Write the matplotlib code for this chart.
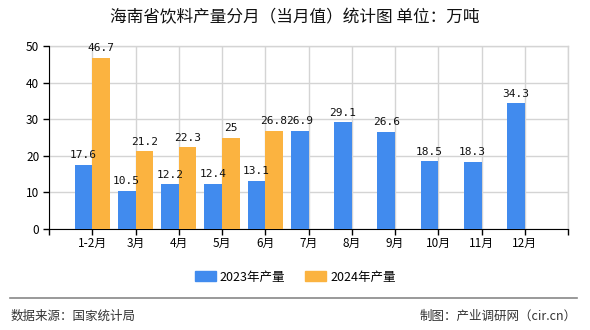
import matplotlib
matplotlib.use("Agg")
import matplotlib.pyplot as plt
from matplotlib.patches import Patch
import numpy as np

plt.rcParams['font.family'] = ['Noto Sans CJK SC', 'DejaVu Sans']

categories = ['1-2月', '3月', '4月', '5月', '6月', '7月', '8月', '9月', '10月', '11月', '12月']
values_2023 = [17.6, 10.5, 12.2, 12.4, 13.1, 26.9, 29.1, 26.6, 18.5, 18.3, 34.3]
values_2024 = [46.7, 21.2, 22.3, 25, 26.8]
labels_2023 = ['17.6', '10.5', '12.2', '12.4', '13.1', '26.9', '29.1', '26.6', '18.5', '18.3', '34.3']
labels_2024 = ['46.7', '21.2', '22.3', '25', '26.8']
yticks = [0, 10, 20, 30, 40, 50]

c23 = '#418BEE'
c24 = '#FBB340'

fig = plt.figure(figsize=(5.9, 3.3), dpi=100)
ax = fig.add_axes([49/590, 1-229/330, (568-49)/590, (229-46)/330])

x = np.arange(1, len(categories) + 1)
w = 0.41
x24 = x[:len(values_2024)]
ax.bar(x - w/2, values_2023, width=w, color=c23, zorder=3)
ax.bar(x24 + w/2, values_2024, width=w, color=c24, zorder=3)

for xi, v, t in zip(x - w/2, values_2023, labels_2023):
    ax.text(xi, v + 1.3, t, ha='center', va='bottom', fontsize=8, family=['DejaVu Sans Mono'], color='#111111', zorder=4)
for xi, v, t in zip(x24 + w/2, values_2024, labels_2024):
    ax.text(xi, v + 1.3, t, ha='center', va='bottom', fontsize=8, family=['DejaVu Sans Mono'], color='#111111', zorder=4)

ax.set_xlim(0, 12)
ax.set_ylim(0, 50)
ax.set_yticks(yticks)
ax.set_yticklabels([str(v) for v in yticks], fontsize=8.5)
ax.set_xticks(np.arange(0, 13))
ax.set_xticklabels([''] + categories + [''], fontsize=8.5)
ax.tick_params(axis='x', length=4, width=1, color='black', pad=2)
ax.tick_params(axis='y', length=4, width=1, color='black', pad=3)
ax.grid(True, color='#d4d4d4', linewidth=1, zorder=0)
ax.set_axisbelow(True)
ax.axvline(12, color='#d4d4d4', linewidth=1, clip_on=False, zorder=0)
ax.axhline(50, color='#d4d4d4', linewidth=1, clip_on=False, zorder=0)
for s in ['top', 'right']:
    ax.spines[s].set_visible(False)
ax.spines['left'].set_color('black')
ax.spines['bottom'].set_color('black')

fig.text(0.5, 1-18/330, '海南省饮料产量分月（当月值）统计图 单位：万吨', ha='center', va='center', fontsize=12, color='#111111')

handles = [Patch(color=c23, label='2023年产量'), Patch(color=c24, label='2024年产量')]
fig.legend(handles=handles, loc='center', bbox_to_anchor=(0.5, 1-277/330), ncol=2, frameon=False,
           fontsize=9, handlelength=1.7, handleheight=0.8, columnspacing=1.6, handletextpad=0.3)

fig.add_artist(plt.Line2D([10/590, 577/590], [1-298/330, 1-298/330], color='#888888', linewidth=1.2))
fig.text(11/590, 1-316/330, '数据来源：国家统计局', ha='left', va='center', fontsize=9, color='#333333')
fig.text(577/590, 1-316/330, '制图：产业调研网（cir.cn）', ha='right', va='center', fontsize=9, color='#333333')

fig.savefig('out.png', dpi=100)
